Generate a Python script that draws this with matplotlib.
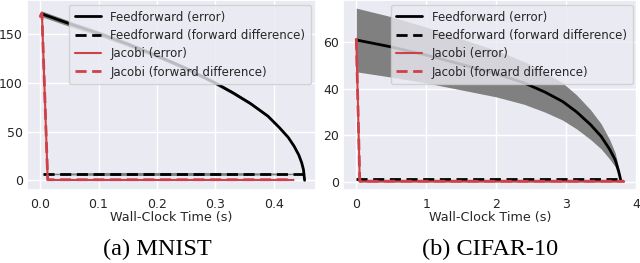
import matplotlib
matplotlib.use("Agg")
import matplotlib.pyplot as plt
import seaborn as sns
import numpy as np

sns.set_theme(style="darkgrid")
plt.rcParams['font.family'] = ['DejaVu Sans']

# ---------------- data ----------------
# MNIST
mn_ff_t = [0.003, 0.05, 0.1, 0.15, 0.2, 0.25, 0.3, 0.33, 0.36, 0.39, 0.41,
           0.425, 0.435, 0.443, 0.448, 0.451, 0.453]
mn_ff_err = [171, 161, 151, 140, 128, 115, 100, 90, 79, 66, 54,
             44, 35, 26, 18, 11, 0]
mn_ff_err_sd = [3, 2.8, 2.6, 2.4, 2.2, 2, 1.8, 1.7, 1.6, 1.4, 1.3,
                1.2, 1.1, 1.0, 0.9, 0.7, 0.4]
mn_fd_t = [0.005, 0.1, 0.2, 0.3, 0.4, 0.453]
mn_fd = [6.5, 6.5, 6.5, 6.5, 6.5, 6.5]
mn_fd_sd = [0.5, 1.5, 1.5, 1.5, 1.0, 0.5]
mn_jac_t = [0.0, 0.003, 0.013, 0.1, 0.2, 0.3, 0.434]
mn_jac_err = [168, 172, 0.3, 0.3, 0.3, 0.3, 0.3]
mn_jac_fd = [168, 172, 0.6, 0.6, 0.6, 0.6, 0.6]

# CIFAR-10
cf_ff_t = [0.0, 0.5, 1.0, 1.5, 2.0, 2.4, 2.7, 2.95, 3.15, 3.35, 3.5,
           3.62, 3.7, 3.75, 3.78]
cf_ff_err = [61, 58, 54.5, 50.5, 46.5, 42.5, 38.5, 34.5, 30, 24.5, 19.5,
             14, 9.5, 4.5, 0.7]
cf_ff_err_sd = [13.7, 13, 12, 11, 10, 9.2, 8.6, 8.0, 7.3, 6.4, 5.4,
                4.2, 3.0, 1.6, 0.3]
cf_fd_t = [0.0, 1.0, 2.0, 3.0, 3.77]
cf_fd = [1.1, 1.1, 1.1, 1.1, 1.1]
cf_jac_t = [0.0, 0.05, 1.0, 2.0, 3.0, 3.83]
cf_jac_err = [61.5, 0.0, 0.0, 0.0, 0.0, 0.0]
cf_jac_fd = [61.5, 0.2, 0.2, 0.2, 0.2, 0.2]

labels = ["Feedforward (error)", "Feedforward (forward difference)",
          "Jacobi (error)", "Jacobi (forward difference)"]
red = "#cf4149"

W, H = 640, 263
fig = plt.figure(figsize=(W / 100, H / 100), dpi=100)

ax1 = fig.add_axes([27 / W, 73 / H, 289 / W, 190 / H])
ax2 = fig.add_axes([343 / W, 73 / H, 294.5 / W, 190 / H])


def draw(ax, fft, ffe, ffsd, fdt, fd, fdsd, jt, je, jfd):
    fft = np.array(fft); ffe = np.array(ffe); ffsd = np.array(ffsd)
    ax.fill_between(fft, ffe - ffsd, ffe + ffsd, color="0.5", lw=0, zorder=1)
    if fdsd is not None:
        fdt_a = np.array(fdt); fd_a = np.array(fd); fdsd_a = np.array(fdsd)
        ax.fill_between(fdt_a, fd_a - fdsd_a, fd_a + fdsd_a, color="0.5", lw=0, zorder=1)
    l1, = ax.plot(fft, ffe, color="black", lw=2.0, zorder=3)
    l2, = ax.plot(fdt, fd, color="black", lw=2.0, ls=(0, (4, 2)), zorder=3)
    l3, = ax.plot(jt, je, color=red, lw=1.5, zorder=4)
    l4, = ax.plot(jt, jfd, color=red, lw=2.0, ls=(0, (4, 2)), zorder=4)
    leg = ax.legend([l1, l2, l3, l4], labels, loc="upper right", fontsize=8.5,
                    borderaxespad=0.4, labelspacing=0.45, handlelength=2.2,
                    borderpad=0.5, frameon=True, framealpha=0.8)
    leg.get_frame().set_facecolor("#EAEAF2")
    leg.get_frame().set_edgecolor("#cccccc")
    ax.set_xlabel("Wall-Clock Time (s)", fontsize=9.2, labelpad=0)
    ax.tick_params(axis="x", labelsize=9, pad=5.5, length=0)
    ax.tick_params(axis="y", labelsize=9, pad=3, length=0)


draw(ax1, mn_ff_t, mn_ff_err, mn_ff_err_sd, mn_fd_t, mn_fd, mn_fd_sd,
     mn_jac_t, mn_jac_err, mn_jac_fd)
ax1.set_xlim(-0.0225, 0.4725)
ax1.set_ylim(-10, 185.3)
ax1.set_yticks([0, 50, 100, 150])
ax1.set_xticks([0.0, 0.1, 0.2, 0.3, 0.4])

draw(ax2, cf_ff_t, cf_ff_err, cf_ff_err_sd, cf_fd_t, cf_fd, None,
     cf_jac_t, cf_jac_err, cf_jac_fd)
ax2.set_xlim(-0.19, 4.02)
ax2.set_ylim(-3.6, 78.2)
ax2.set_yticks([0, 20, 40, 60])
ax2.set_xticks([0, 1, 2, 3, 4])

fig.text(157.5 / W, 7.5 / H, "(a) MNIST", ha="center", va="baseline",
         fontsize=17.5, family="Liberation Serif", color="black")
fig.text(490 / W, 7.5 / H, "(b) CIFAR-10", ha="center", va="baseline",
         fontsize=17.5, family="Liberation Serif", color="black")

fig.savefig("out.png", dpi=100)
